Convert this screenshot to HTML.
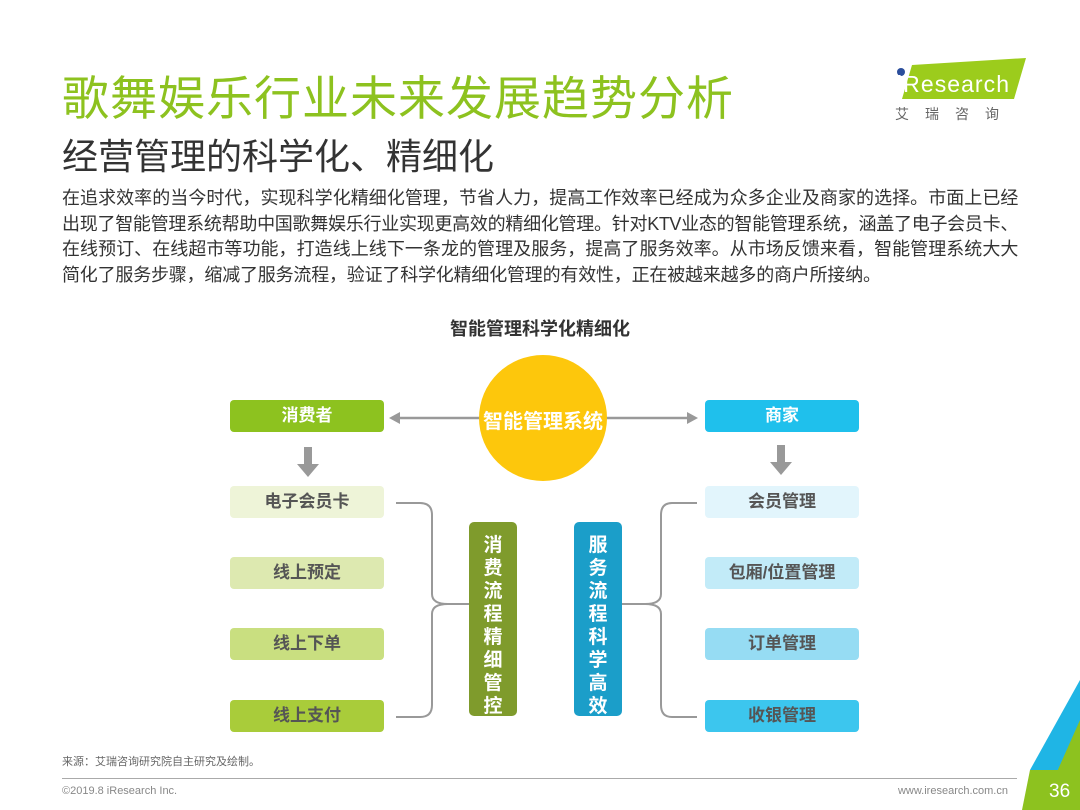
<!DOCTYPE html>
<html><head><meta charset="utf-8"><style>
body{margin:0;width:1080px;height:810px;background:#fff;position:relative;overflow:hidden;font-family:"Liberation Sans","Noto Sans CJK SC",sans-serif}
.a{position:absolute}
.box{position:absolute;width:154px;height:32px;border-radius:4px;text-align:center;line-height:32px;font-size:17px;font-weight:bold;color:#555}
.vb{position:absolute;width:48px;border-radius:5px;color:#fff;font-size:19px;font-weight:bold;text-align:center;line-height:23px;padding-top:12px;box-sizing:border-box}
.pl{white-space:nowrap;text-align:justify;text-align-last:justify;width:956px;letter-spacing:-0.4px}
</style></head><body>
<div class="a" style="left:62px;top:60px;font-size:47px;color:#8dc21f;letter-spacing:1px">歌舞娱乐行业未来发展趋势分析</div>
<div class="a" style="left:62px;top:128px;font-size:36px;color:#333">经营管理的科学化、精细化</div>
<div class="a" style="left:62px;top:186px;font-size:18px;line-height:25.7px;color:#333">
<div class="pl">在追求效率的当今时代，实现科学化精细化管理，节省人力，提高工作效率已经成为众多企业及商家的选择。市面上已经</div>
<div class="pl">出现了智能管理系统帮助中国歌舞娱乐行业实现更高效的精细化管理。针对KTV业态的智能管理系统，涵盖了电子会员卡、</div>
<div class="pl">在线预订、在线超市等功能，打造线上线下一条龙的管理及服务，提高了服务效率。从市场反馈来看，智能管理系统大大</div>
<div style="white-space:nowrap;letter-spacing:-0.2px">简化了服务步骤，缩减了服务流程，验证了科学化精细化管理的有效性，正在被越来越多的商户所接纳。</div>
</div>
<svg class="a" style="left:890px;top:55px" width="140" height="75"><polygon points="22,10 136,3 124,44 12,44" fill="#9ccc1c"/><circle cx="11" cy="17" r="4" fill="#2b4e9c"/><text x="7" y="37" font-size="23" fill="#fff" font-family="Liberation Sans" textLength="112">iResearch</text><text x="5" y="64" font-size="14" fill="#666" letter-spacing="16" font-family="Noto Sans CJK SC">艾瑞咨询</text></svg>
<div class="a" style="left:0;width:1080px;top:315px;text-align:center;font-size:18px;font-weight:bold;color:#333">智能管理科学化精细化</div>
<svg class="a" style="left:0;top:0" width="1080" height="810">
<line x1="398" y1="418" x2="690" y2="418" stroke="#999" stroke-width="2.5"/>
<polygon points="389,418 400,412 400,424" fill="#999"/><polygon points="698,418 687,412 687,424" fill="#999"/>
<ellipse cx="543" cy="418" rx="64" ry="63" fill="#fdc70c"/>
<rect x="304" y="447" width="8" height="18" fill="#999"/><polygon points="297,464 319,464 308,477" fill="#999"/>
<rect x="777" y="445" width="8" height="18" fill="#999"/><polygon points="770,462 792,462 781,475" fill="#999"/>
<g fill="none" stroke="#999" stroke-width="2">
<path d="M396 503 H420 Q432 503 432 515 V594 Q432 604 448 604 H470"/><path d="M396 717 H420 Q432 717 432 705 V614 Q432 604 448 604"/>
<path d="M697 503 H672 Q661 503 661 515 V594 Q661 604 645 604 H622"/><path d="M697 717 H672 Q661 717 661 705 V614 Q661 604 645 604"/>
</g>
<path d="M1080 680 L1030 770 L1080 770 Z" fill="#1fb5e5"/><path d="M1080 720 L1040 810 L1080 810 Z" fill="#8dc21f"/><path d="M1030 770 L1022 810 L1060 810 L1080 770Z" fill="#8dc21f"/>
<text x="1049" y="797" font-size="19" fill="#fff" font-family="Liberation Sans">36</text>
</svg>
<div class="a" style="left:480px;top:405px;width:126px;text-align:center;font-size:20px;font-weight:bold;color:#fff">智能管理系统</div>
<div class="box" style="left:230px;top:400px;background:#8dc21f;color:#fff">消费者</div>
<div class="box" style="left:230px;top:486px;background:#eef4d8">电子会员卡</div>
<div class="box" style="left:230px;top:557px;background:#dde9b0">线上预定</div>
<div class="box" style="left:230px;top:628px;background:#c9df80">线上下单</div>
<div class="box" style="left:230px;top:700px;background:#a9cc3a">线上支付</div>
<div class="box" style="left:705px;top:400px;background:#1fc0ec;color:#fff">商家</div>
<div class="box" style="left:705px;top:486px;background:#e2f5fc">会员管理</div>
<div class="box" style="left:705px;top:557px;background:#c2ebf8">包厢/位置管理</div>
<div class="box" style="left:705px;top:628px;background:#96dcf3">订单管理</div>
<div class="box" style="left:705px;top:700px;background:#3cc6ee">收银管理</div>
<div class="vb" style="left:469px;top:522px;height:194px;background:#7f9b2c">消<br>费<br>流<br>程<br>精<br>细<br>管<br>控</div>
<div class="vb" style="left:574px;top:522px;height:194px;background:#1b9ec9">服<br>务<br>流<br>程<br>科<br>学<br>高<br>效</div>
<div class="a" style="left:62px;top:753px;font-size:11px;color:#666">来源：艾瑞咨询研究院自主研究及绘制。</div>
<div class="a" style="left:62px;top:778px;width:955px;height:1px;background:#aaa"></div>
<div class="a" style="left:62px;top:785px;font-size:11px;color:#888">©2019.8 iResearch Inc.</div>
<div class="a" style="left:880px;top:785px;width:128px;text-align:right;font-size:11px;color:#888">www.iresearch.com.cn</div>
</body></html>
